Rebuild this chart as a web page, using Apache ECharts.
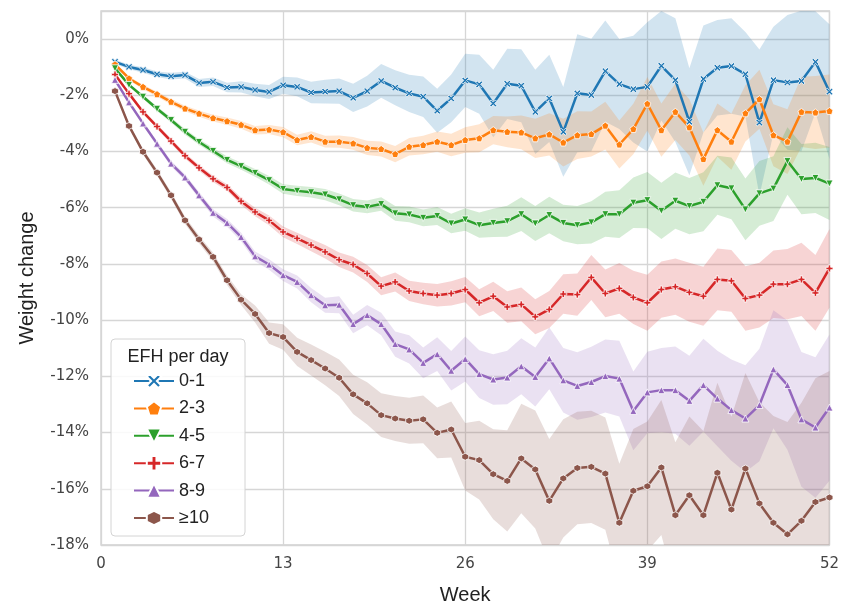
<!DOCTYPE html>
<html>
<head>
<meta charset="utf-8">
<title>Weight change by EFH per day</title>
<script src="https://cdn.jsdelivr.net/npm/echarts@6/dist/echarts.min.js"></script>
<style>
  html, body { margin: 0; padding: 0; background: #fff; }
  #chart { width: 842px; height: 610px; }
</style>
</head>
<body>
<div id="chart"></div>
<script>
// Weeks since start (1..52)
const weeks = Array.from({ length: 52 }, (_, i) => i + 1);

// Group labels (EFH per day)
const groups = ['0-1', '2-3', '4-5', '6-7', '8-9', '≥10'];

// Mean weight change per week, in percent
const mean01 = [-0.81,-0.99,-1.10,-1.25,-1.32,-1.28,-1.56,-1.52,-1.72,-1.70,
  -1.81,-1.88,-1.64,-1.70,-1.90,-1.87,-1.85,-2.09,-1.85,-1.49,
  -1.73,-1.93,-2.05,-2.55,-2.11,-1.47,-1.61,-2.29,-1.59,-1.66,
  -2.59,-2.11,-3.30,-1.93,-1.99,-1.14,-1.60,-1.78,-1.70,-0.95,
  -1.46,-2.94,-1.42,-1.02,-0.96,-1.25,-2.97,-1.46,-1.54,-1.49,
  -0.81,-1.87];
const mean23 = [-0.90,-1.40,-1.70,-1.96,-2.23,-2.47,-2.65,-2.81,-2.92,-3.05,
  -3.24,-3.22,-3.31,-3.59,-3.48,-3.65,-3.65,-3.71,-3.87,-3.91,
  -4.09,-3.83,-3.77,-3.65,-3.77,-3.59,-3.53,-3.24,-3.30,-3.32,
  -3.53,-3.39,-3.68,-3.42,-3.38,-3.08,-3.75,-3.20,-2.30,-3.24,
  -2.59,-3.14,-4.27,-3.24,-3.65,-2.64,-2.14,-3.42,-3.65,-2.59,
  -2.61,-2.56];
const mean45 = [-1.04,-1.63,-2.05,-2.48,-2.88,-3.30,-3.66,-3.98,-4.30,-4.52,
  -4.76,-5.02,-5.33,-5.40,-5.45,-5.53,-5.70,-5.91,-5.97,-5.87,
  -6.20,-6.24,-6.36,-6.29,-6.56,-6.42,-6.62,-6.54,-6.48,-6.23,
  -6.56,-6.26,-6.54,-6.62,-6.52,-6.23,-6.23,-5.82,-5.73,-6.11,
  -5.75,-5.94,-5.79,-5.20,-5.31,-6.06,-5.49,-5.32,-4.34,-4.98,
  -4.94,-5.14];
const mean67 = [-1.26,-1.94,-2.59,-3.11,-3.63,-4.15,-4.58,-4.97,-5.28,-5.77,
  -6.15,-6.45,-6.86,-7.09,-7.33,-7.57,-7.85,-8.02,-8.34,-8.79,
  -8.64,-8.96,-9.05,-9.11,-9.05,-8.91,-9.38,-9.15,-9.53,-9.44,
  -9.88,-9.62,-9.07,-9.09,-8.48,-9.05,-8.87,-9.19,-9.38,-8.91,
  -8.81,-9.01,-9.15,-8.55,-8.60,-9.23,-9.11,-8.72,-8.72,-8.55,
  -9.03,-8.16];
const mean89 = [-1.45,-2.25,-3.00,-3.72,-4.43,-4.92,-5.56,-6.18,-6.54,-7.04,
  -7.73,-8.02,-8.40,-8.64,-9.11,-9.47,-9.45,-10.14,-9.82,-10.14,
  -10.85,-11.04,-11.52,-11.21,-11.80,-11.38,-11.92,-12.11,-12.04,-11.64,
  -12.02,-11.36,-12.14,-12.34,-12.20,-11.99,-12.08,-13.23,-12.57,-12.49,
  -12.49,-12.87,-12.31,-12.79,-13.20,-13.50,-13.02,-11.75,-12.31,-13.53,
  -13.82,-13.11];
const mean10 = [-1.85,-3.09,-4.01,-4.75,-5.56,-6.45,-7.13,-7.75,-8.58,-9.27,
  -9.78,-10.46,-10.60,-11.13,-11.42,-11.72,-12.05,-12.64,-12.96,-13.38,
  -13.50,-13.58,-13.53,-14.01,-13.89,-14.86,-14.98,-15.48,-15.72,-14.92,
  -15.31,-16.43,-15.63,-15.26,-15.22,-15.46,-17.21,-16.07,-15.91,-15.24,
  -16.94,-16.23,-16.94,-15.43,-16.74,-15.28,-16.52,-17.21,-17.62,-17.14,
  -16.47,-16.31];

// Half-width of the confidence band per week, in percentage points
const ci01 = [0.08,0.08,0.10,0.10,0.12,0.12,0.14,0.15,0.17,0.20,
  0.22,0.25,0.30,0.33,0.38,0.42,0.45,0.50,0.55,0.60,
  0.62,0.66,0.72,0.78,0.85,0.95,1.05,1.20,1.25,1.30,
  1.50,1.55,1.60,2.10,2.00,1.80,1.60,1.90,2.30,1.95,
  2.20,1.90,1.90,1.70,1.70,1.50,2.60,1.90,2.40,2.50,
  1.80,2.40];
const ci23 = [0.06,0.07,0.08,0.09,0.10,0.10,0.11,0.12,0.13,0.14,
  0.15,0.16,0.18,0.19,0.20,0.21,0.22,0.23,0.25,0.27,
  0.29,0.31,0.33,0.36,0.40,0.45,0.50,0.50,0.55,0.60,
  0.70,0.75,0.85,0.85,0.80,0.85,0.85,0.90,0.95,0.95,
  1.00,1.00,0.95,0.95,1.00,1.00,1.05,1.10,1.15,1.25,
  1.30,1.30];
const ci45 = [0.05,0.06,0.07,0.08,0.09,0.10,0.10,0.11,0.12,0.13,
  0.14,0.15,0.17,0.18,0.19,0.20,0.21,0.22,0.23,0.24,
  0.26,0.28,0.30,0.32,0.35,0.40,0.45,0.50,0.55,0.60,
  0.62,0.65,0.65,0.68,0.75,0.80,0.85,0.90,1.00,1.00,
  1.00,1.00,1.05,1.05,1.10,1.10,1.15,1.15,1.20,1.25,
  1.25,1.30];
const ci67 = [0.05,0.06,0.07,0.08,0.09,0.10,0.10,0.11,0.12,0.13,
  0.15,0.17,0.19,0.20,0.22,0.24,0.26,0.28,0.30,0.32,
  0.34,0.36,0.38,0.40,0.43,0.45,0.48,0.52,0.56,0.60,
  0.62,0.66,0.70,0.75,0.80,0.85,0.90,0.95,1.00,1.00,
  1.00,1.05,1.05,1.10,1.10,1.15,1.15,1.20,1.25,1.30,
  1.35,1.40];
const ci89 = [0.06,0.07,0.08,0.09,0.10,0.11,0.12,0.13,0.14,0.15,
  0.17,0.19,0.21,0.23,0.25,0.27,0.30,0.33,0.36,0.40,
  0.45,0.50,0.55,0.60,0.70,0.80,0.85,0.90,0.95,1.00,
  1.05,1.10,1.15,1.20,1.25,1.30,1.35,1.40,1.45,1.50,
  1.55,1.60,1.65,1.70,1.80,1.90,2.00,2.10,2.30,2.40,
  2.50,2.60];
const ci10 = [0.07,0.08,0.10,0.11,0.12,0.13,0.14,0.15,0.17,0.19,
  0.30,0.38,0.45,0.50,0.55,0.60,0.65,0.70,0.75,0.78,
  0.80,0.82,0.85,0.90,1.00,1.20,1.40,1.60,1.80,1.95,
  2.10,2.20,2.10,2.00,2.00,2.00,2.10,2.20,2.30,2.40,
  2.60,2.80,3.00,3.20,3.30,3.40,3.60,3.80,4.00,4.20,
  4.40,4.50];

// Axis ticks
const xTicks = [0, 13, 26, 39, 52];
const yTickStep = 2;

const means = [mean01, mean23, mean45, mean67, mean89, mean10];
const cis = [ci01, ci23, ci45, ci67, ci89, ci10];
const colors = ['#1f77b4', '#ff7f0e', '#2ca02c', '#d62728', '#9467bd', '#8c564b'];
const symbols = [
  'path://M2,0 L5,3 L8,0 L10,2 L7,5 L10,8 L8,10 L5,7 L2,10 L0,8 L3,5 L0,2 Z',
  'path://M5,0 L10,3.8 L8.1,10 L1.9,10 L0,3.8 Z',
  'path://M0,0 L10,0 L5,9 Z',
  'path://M3.3,0 H6.7 V3.3 H10 V6.7 H6.7 V10 H3.3 V6.7 H0 V3.3 H3.3 Z',
  'path://M5,0 L10,9 L0,9 Z',
  'path://M5,0 L9.33,2.5 L9.33,7.5 L5,10 L0.67,7.5 L0.67,2.5 Z'
];

const series = [];
// Confidence bands: one polygon per group, placed through the axes' scales
groups.forEach((g, i) => {
  const upper = weeks.map((w, k) => [w, means[i][k] + cis[i][k]]);
  const lower = weeks.map((w, k) => [w, means[i][k] - cis[i][k]]);
  series.push({
    type: 'custom', name: 'band-' + i,
    data: [[weeks[0], means[i][0]]],
    silent: true, clip: true, z: 1,
    renderItem: (params, api) => {
      const pts = upper.map(p => api.coord(p))
        .concat(lower.slice().reverse().map(p => api.coord(p)));
      return {
        type: 'polygon',
        shape: { points: pts },
        style: { fill: colors[i], opacity: 0.2 }
      };
    }
  });
});
// Mean lines with markers
groups.forEach((g, i) => {
  series.push({
    type: 'line', name: g,
    data: weeks.map((w, k) => [w, means[i][k]]),
    symbol: symbols[i], symbolSize: 7, showAllSymbol: true,
    color: colors[i],
    lineStyle: { color: colors[i], width: 2.5 },
    itemStyle: { color: colors[i], borderColor: '#ffffff', borderWidth: 0.8 },
    z: 3
  });
});

const tickFont = 'DejaVu Sans';
const titleFont = 'Liberation Sans';

const option = {
  animation: false,
  backgroundColor: '#ffffff',
  grid: {
    left: 101, right: 9, top: 11, bottom: 65,
    show: true, borderColor: '#cfcfcf', borderWidth: 1.3, backgroundColor: 'transparent'
  },
  xAxis: {
    type: 'value', min: xTicks[0], max: xTicks[xTicks.length - 1],
    interval: xTicks[1] - xTicks[0],
    name: 'Week', nameLocation: 'middle', nameGap: 40,
    nameTextStyle: { fontFamily: titleFont, fontSize: 20, color: '#222' },
    axisLine: { show: false }, axisTick: { show: false },
    axisLabel: { fontFamily: tickFont, fontSize: 15, color: '#444', margin: 12 },
    splitLine: { show: true, lineStyle: { color: '#d6d6d6', width: 1.3 } }
  },
  yAxis: {
    type: 'value', min: -18, max: 1, interval: yTickStep,
    name: 'Weight change', nameLocation: 'middle', nameGap: 64, nameRotate: 90,
    nameTextStyle: { fontFamily: titleFont, fontSize: 20, color: '#222' },
    axisLine: { show: false }, axisTick: { show: false },
    axisLabel: {
      fontFamily: tickFont, fontSize: 15, color: '#444', margin: 12,
      formatter: v => (v > 0.5 ? '' : v + '%')
    },
    splitLine: { show: true, lineStyle: { color: '#d6d6d6', width: 1.3 } }
  },
  legend: {
    data: groups,
    orient: 'vertical', left: 128, top: 367,
    itemWidth: 40, itemHeight: 18, itemGap: 9.4,
    textStyle: { fontFamily: titleFont, fontSize: 18, color: '#222', lineHeight: 18 },
    z: 6
  },
  graphic: [
    {
      type: 'rect', z: 5,
      shape: { x: 111, y: 339, width: 134, height: 197, r: 4 },
      style: { fill: 'rgba(255,255,255,0.85)', stroke: '#d4d4d4', lineWidth: 1 }
    },
    {
      type: 'text', z: 6, x: 178, y: 357,
      style: {
        text: 'EFH per day', fill: '#222', font: '18px "Liberation Sans"',
        textAlign: 'center', textVerticalAlign: 'middle'
      }
    }
  ],
  series: series
};

const chart = echarts.init(document.getElementById('chart'), null, { renderer: 'canvas' });
chart.setOption(option);
</script>
</body>
</html>
